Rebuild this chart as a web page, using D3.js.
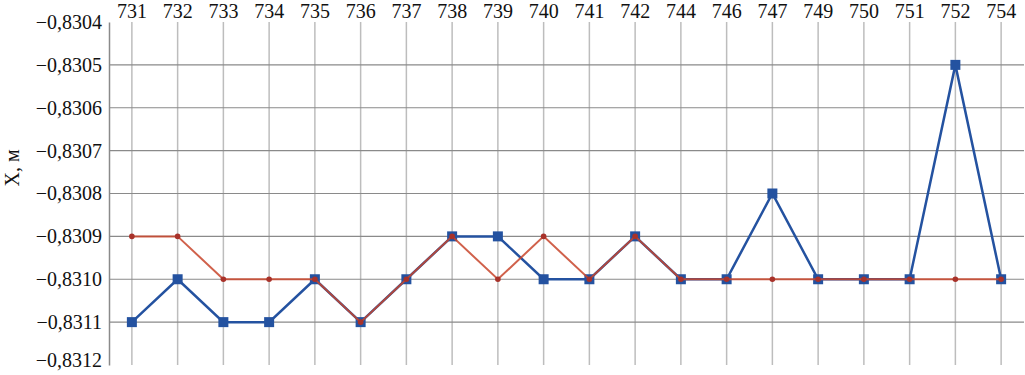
<!DOCTYPE html>
<html>
<head>
<meta charset="utf-8">
<script src="https://cdn.jsdelivr.net/npm/d3@7"></script>
<style>
  body { margin: 0; background: #fff; }
  svg { display: block; font-family: "Liberation Serif", serif; }
</style>
</head>
<body>
<svg id="chart" width="1025" height="375"></svg>
<script>
const width = 1025;
const height = 375;

const categories = ["731", "732", "733", "734", "735", "736", "737", "738", "739", "740",
                    "741", "742", "744", "746", "747", "749", "750", "751", "752", "754"];
const blueValues = [-0.8311, -0.8310, -0.8311, -0.8311, -0.8310, -0.8311, -0.8310, -0.8309, -0.8309, -0.8310,
                    -0.8310, -0.8309, -0.8310, -0.8310, -0.8308, -0.8310, -0.8310, -0.8310, -0.8305, -0.8310];
const redValues  = [-0.8309, -0.8309, -0.8310, -0.8310, -0.8310, -0.8311, -0.8310, -0.8309, -0.8310, -0.8309,
                    -0.8310, -0.8309, -0.8310, -0.8310, -0.8310, -0.8310, -0.8310, -0.8310, -0.8310, -0.8310];
const yTicks = [-0.8304, -0.8305, -0.8306, -0.8307, -0.8308, -0.8309, -0.8310, -0.8311, -0.8312];

const margin = { top: 22, right: 1, bottom: 10, left: 109 };

const svg = d3.select("#chart");

const x = d3.scaleBand()
    .domain(categories)
    .range([margin.left, width - margin.right])
    .paddingInner(0)
    .paddingOuter(0);

const y = d3.scaleLinear()
    .domain([-0.8312, -0.8304])
    .range([height - margin.bottom, margin.top]);

const cx = d => x(d) + x.bandwidth() / 2;
const fmt = v => (v < 0 ? "\u2212" : "") + Math.abs(v).toFixed(4).replace(".", ",");

// vertical grid
svg.append("g")
    .selectAll("line")
    .data(categories)
    .enter()
    .append("line")
    .attr("x1", cx).attr("x2", cx)
    .attr("y1", margin.top).attr("y2", height - margin.bottom)
    .attr("stroke", "#bdbdbd")
    .attr("stroke-width", 1.5);

// horizontal grid (inner ticks only)
svg.append("g")
    .selectAll("line")
    .data(yTicks.slice(1, -1))
    .enter()
    .append("line")
    .attr("x1", margin.left).attr("x2", width - margin.right)
    .attr("y1", d => y(d)).attr("y2", d => y(d))
    .attr("stroke", "#8a8a8a")
    .attr("stroke-width", 1.2);

// y axis
const yAxis = svg.append("g")
    .attr("transform", `translate(${margin.left},0)`)
    .call(d3.axisLeft(y).tickValues(yTicks).tickFormat(fmt).tickSize(0).tickPadding(7));
yAxis.select(".domain").attr("stroke", "#8a8a8a").attr("stroke-width", 1.5);
yAxis.selectAll("text")
    .attr("font-family", "Liberation Serif, serif")
    .attr("font-size", "20px")
    .attr("fill", "#111");
// keep the lowest label inside the picture
yAxis.selectAll(".tick").filter(d => d === -0.8312).select("text").attr("dy", "0.05em");

// x axis on top
const xAxis = svg.append("g")
    .attr("transform", `translate(0,${margin.top})`)
    .call(d3.axisTop(x).tickSize(0).tickPadding(4));
xAxis.select(".domain").remove();
xAxis.selectAll("text")
    .attr("font-family", "Liberation Serif, serif")
    .attr("font-size", "20px")
    .attr("fill", "#111");

// y title
svg.append("text")
    .attr("transform", "translate(19,168) rotate(-90)")
    .attr("text-anchor", "middle")
    .attr("font-size", "20px")
    .attr("fill", "#111")
    .text("X, м");

const line = d3.line()
    .x((d, i) => cx(categories[i]))
    .y(d => y(d));

// blue series
svg.append("path")
    .datum(blueValues)
    .attr("d", line)
    .attr("fill", "none")
    .attr("stroke", "#2452a0")
    .attr("stroke-width", 2.5);

svg.append("g")
    .selectAll("rect")
    .data(blueValues)
    .enter()
    .append("rect")
    .attr("x", (d, i) => cx(categories[i]) - 5)
    .attr("y", d => y(d) - 5)
    .attr("width", 10)
    .attr("height", 10)
    .attr("fill", "#2452a0");

// red series
svg.append("path")
    .datum(redValues)
    .attr("d", line)
    .attr("fill", "none")
    .attr("stroke", "#c8452c")
    .attr("stroke-width", 2)
    .attr("stroke-opacity", 0.85);

svg.append("g")
    .selectAll("circle")
    .data(redValues)
    .enter()
    .append("circle")
    .attr("cx", (d, i) => cx(categories[i]))
    .attr("cy", d => y(d))
    .attr("r", 2.8)
    .attr("fill", "#a8322a");
</script>
</body>
</html>
